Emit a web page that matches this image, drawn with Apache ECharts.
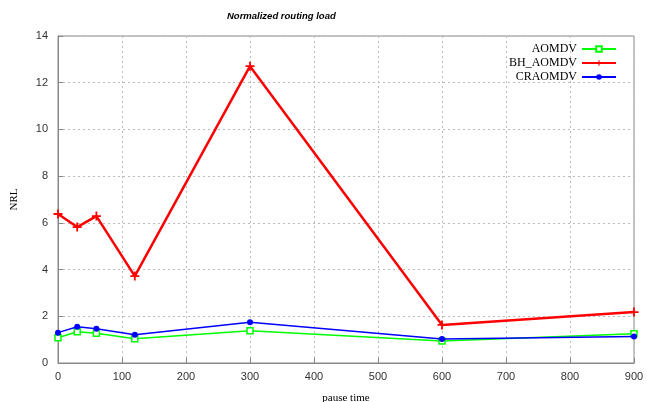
<!DOCTYPE html>
<html><head><meta charset="utf-8">
<script src="https://cdn.jsdelivr.net/npm/echarts@6/dist/echarts.min.js"></script>
<style>html,body{margin:0;padding:0;background:#fff}#c{width:647px;height:402px}</style>
</head><body><div id="c"></div>
<script>
const pauseTimes = [0, 30, 60, 120, 300, 600, 900];
const aomdv = [1.08, 1.34, 1.27, 1.04, 1.38, 0.94, 1.25];
const bhAomdv = [6.38, 5.82, 6.29, 3.72, 12.71, 1.63, 2.18];
const craomdv = [1.30, 1.55, 1.47, 1.21, 1.74, 1.03, 1.13];
const seriesNames = ['AOMDV', 'BH_AOMDV', 'CRAOMDV'];
const colors = ['#00ff00', '#ff0000', '#0000ff'];

const plusPath = 'path://M4,0H6V4H10V6H6V10H4V6H0V4H4Z';
const pair = (arr) => pauseTimes.map((x, i) => [x, arr[i]]);

const chart = echarts.init(document.getElementById('c'));
chart.setOption({
  animation: false,
  title: {
    text: 'Normalized routing load', left: 222, top: 6,
    textStyle: {fontFamily: 'Liberation Sans', fontStyle: 'italic', fontWeight: 'bold', fontSize: 9.5, color: '#000'}
  },
  legend: {
    orient: 'vertical', right: 25, top: 38, align: 'right', itemWidth: 34, itemHeight: 7, itemGap: 2,
    textStyle: {fontFamily: 'Liberation Serif', fontSize: 12, color: '#000'},
    data: seriesNames
  },
  grid: {left: 58, right: 13, top: 36, bottom: 39, show: true, borderColor: '#888', borderWidth: 1, outerBoundsMode: 'none', containLabel: false},
  xAxis: {
    type: 'value', min: 0, max: 900, interval: 100,
    name: 'pause time', nameLocation: 'middle', nameGap: 30,
    nameTextStyle: {fontFamily: 'Liberation Serif', fontSize: 11, color: '#000'},
    axisLine: {lineStyle: {color: '#888'}},
    axisTick: {inside: true, length: 5, lineStyle: {color: '#888'}},
    axisLabel: {fontFamily: 'Liberation Sans', fontSize: 11, color: '#333', margin: 8},
    splitLine: {show: true, lineStyle: {color: '#bbb', type: [2, 3], width: 1}}
  },
  yAxis: {
    type: 'value', min: 0, max: 14, interval: 2,
    name: 'NRL', nameLocation: 'middle', nameGap: 38,
    nameTextStyle: {fontFamily: 'Liberation Serif', fontSize: 11, color: '#000'},
    axisLine: {show: true, lineStyle: {color: '#888'}},
    axisTick: {show: true, inside: true, length: 5, lineStyle: {color: '#888'}},
    axisLabel: {fontFamily: 'Liberation Sans', fontSize: 11, color: '#333', margin: 10},
    splitLine: {show: true, lineStyle: {color: '#bbb', type: [2, 3], width: 1}}
  },
  series: [
    {name: seriesNames[0], type: 'line', data: pair(aomdv), color: colors[0],
     lineStyle: {width: 1.5, color: colors[0]}, symbol: 'rect', symbolSize: 6,
     itemStyle: {color: '#fff', borderColor: colors[0], borderWidth: 1.5}, z: 3},
    {name: seriesNames[1], type: 'line', data: pair(bhAomdv), color: colors[1],
     lineStyle: {width: 2.5, color: colors[1]}, symbol: plusPath, symbolSize: 9,
     itemStyle: {color: colors[1]}, z: 2},
    {name: seriesNames[2], type: 'line', data: pair(craomdv), color: colors[2],
     lineStyle: {width: 1.5, color: colors[2]}, symbol: 'circle', symbolSize: 6,
     itemStyle: {color: colors[2]}, z: 4}
  ]
});
</script></body></html>
